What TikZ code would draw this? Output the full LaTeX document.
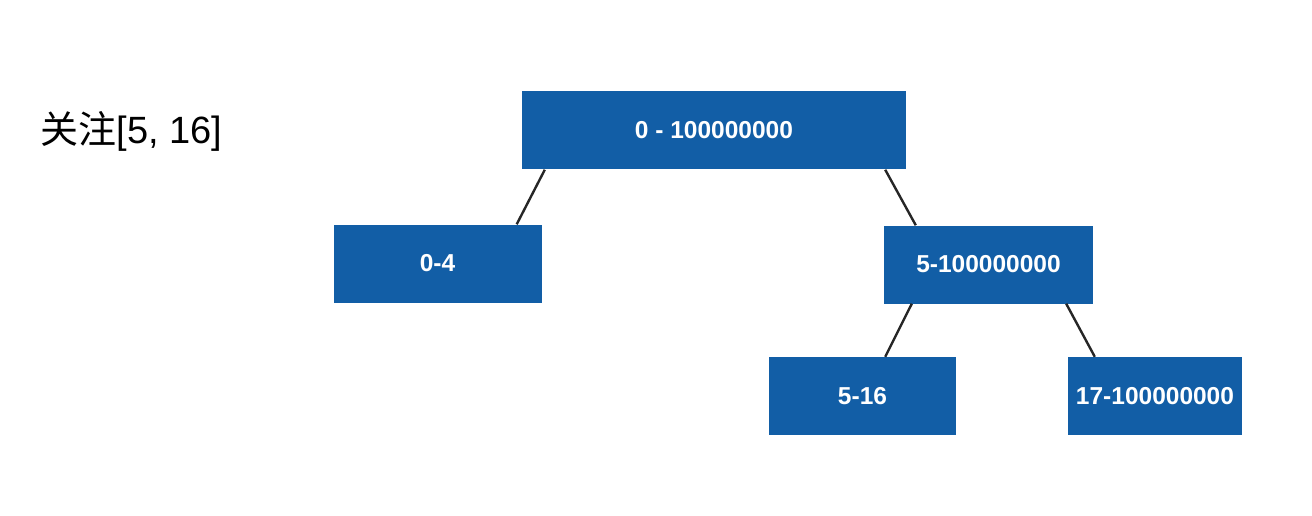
\documentclass[tikz,border=0pt]{standalone}
\usepackage{fontspec}
\setmainfont{Liberation Sans}
\newfontfamily\cjkfont{Noto Sans CJK SC}
\usepackage{tikz}
\usetikzlibrary{positioning}
\definecolor{seg-blue}{RGB}{18,94,166}
\tikzset{
  segbox/.style={fill=seg-blue, draw=none, text=white, inner sep=0pt,
    minimum height=78pt, font=\fontsize{24.5}{28}\selectfont\bfseries},
  segline/.style={line width=2.4pt, black!85}
}
\begin{document}
\begin{tikzpicture}[x=1pt,y=-1pt]
    \useasboundingbox (0,0) rectangle (1312,516);
    % range tree
    \node[segbox, minimum width=384pt] (root) at (714,130.5) {0 - 100000000};
    \node[segbox, minimum width=208pt] (left) at (437.5,263.5) {0-4};
    \node[segbox, minimum width=209pt] (right) at (988.5,264.5) {5-100000000};
    \node[segbox, minimum width=187pt] (rl) at (862.5,396) {5-16};
    \node[segbox, minimum width=174pt] (rr) at (1155,396) {17-100000000};
    % query
    \node[anchor=west, font=\fontsize{38}{44}\selectfont] (query) at (37,131) {{\cjkfont 关注}[5, 16]};
    \draw[segline] ([xshift=23pt]root.south west) -- ([xshift=-25pt]left.north east);
    \draw[segline] ([xshift=-21pt]root.south east) -- ([xshift=32pt]right.north west);
    \draw[segline] ([xshift=28pt]right.south west) -- ([xshift=-71pt]rl.north east);
    \draw[segline] ([xshift=-27pt]right.south east) -- ([xshift=27pt]rr.north west);
\end{tikzpicture}
\end{document}
